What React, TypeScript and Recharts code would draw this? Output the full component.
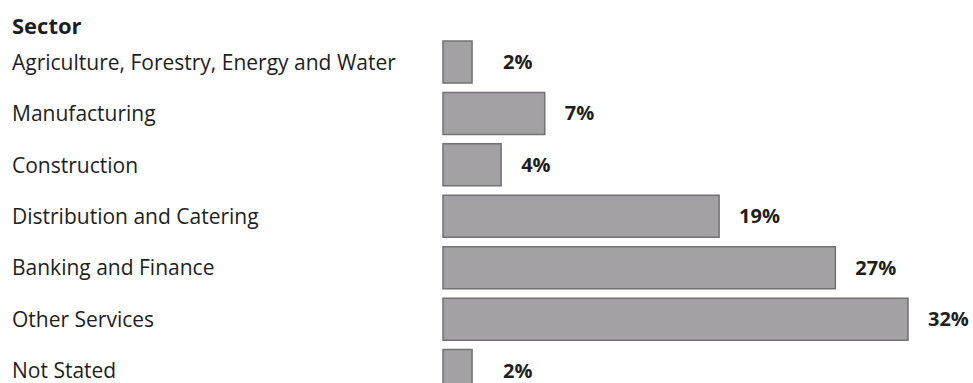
import { BarChart, Bar, XAxis, YAxis, LabelList } from 'recharts';

// Share of respondents by sector (%)
const sectors = [
    'Agriculture, Forestry, Energy and Water',
    'Manufacturing',
    'Construction',
    'Distribution and Catering',
    'Banking and Finance',
    'Other Services',
    'Not Stated',
];
const shares = [2, 7, 4, 19, 27, 32, 2];

const data = sectors.map((sector, i) => ({ sector, share: shares[i] }));

const FONT = '"Open Sans", Lato, sans-serif';
const INK = '#1e1e1e';

// left-aligned category labels instead of the default right-aligned ones
function SectorTick(props: any) {
    const { y, payload } = props;
    return (
        <text x={12} y={y} dy={8} textAnchor="start" fill={INK} fontFamily={FONT} fontSize={21}>
            {payload.value}
        </text>
    );
}

// percentage to the right of the bar, kept clear of the very short bars
function ShareLabel(props: any) {
    const { x, y, width, height, value } = props;
    const lx = Math.max(x + width + 20, 503);
    return (
        <text x={lx} y={y + height / 2} dy={7} textAnchor="start" fill={INK} fontFamily={FONT} fontWeight={700} fontSize={20}>
            {`${value}%`}
        </text>
    );
}

export default function App() {
    return (
        <div style={{ position: 'absolute', left: 0, top: 0, width: 973, height: 383, overflow: 'hidden', background: '#fff' }}>
            <div style={{ position: 'absolute', left: 12, top: 10, fontFamily: FONT, fontWeight: 700, fontSize: 22, color: INK }}>
                Sector
            </div>
            <BarChart
                width={973}
                height={396}
                data={data}
                layout="vertical"
                margin={{ top: 36, right: 65, bottom: 0, left: 0 }}
                barSize={42}
            >
                <XAxis type="number" domain={[0, 32]} hide />
                <YAxis
                    type="category"
                    dataKey="sector"
                    width={443}
                    axisLine={false}
                    tickLine={false}
                    tick={<SectorTick />}
                />
                <Bar dataKey="share" fill="#a3a1a3" stroke="#727272" strokeWidth={1.5} isAnimationActive={false}>
                    <LabelList dataKey="share" content={<ShareLabel />} />
                </Bar>
            </BarChart>
        </div>
    );
}
